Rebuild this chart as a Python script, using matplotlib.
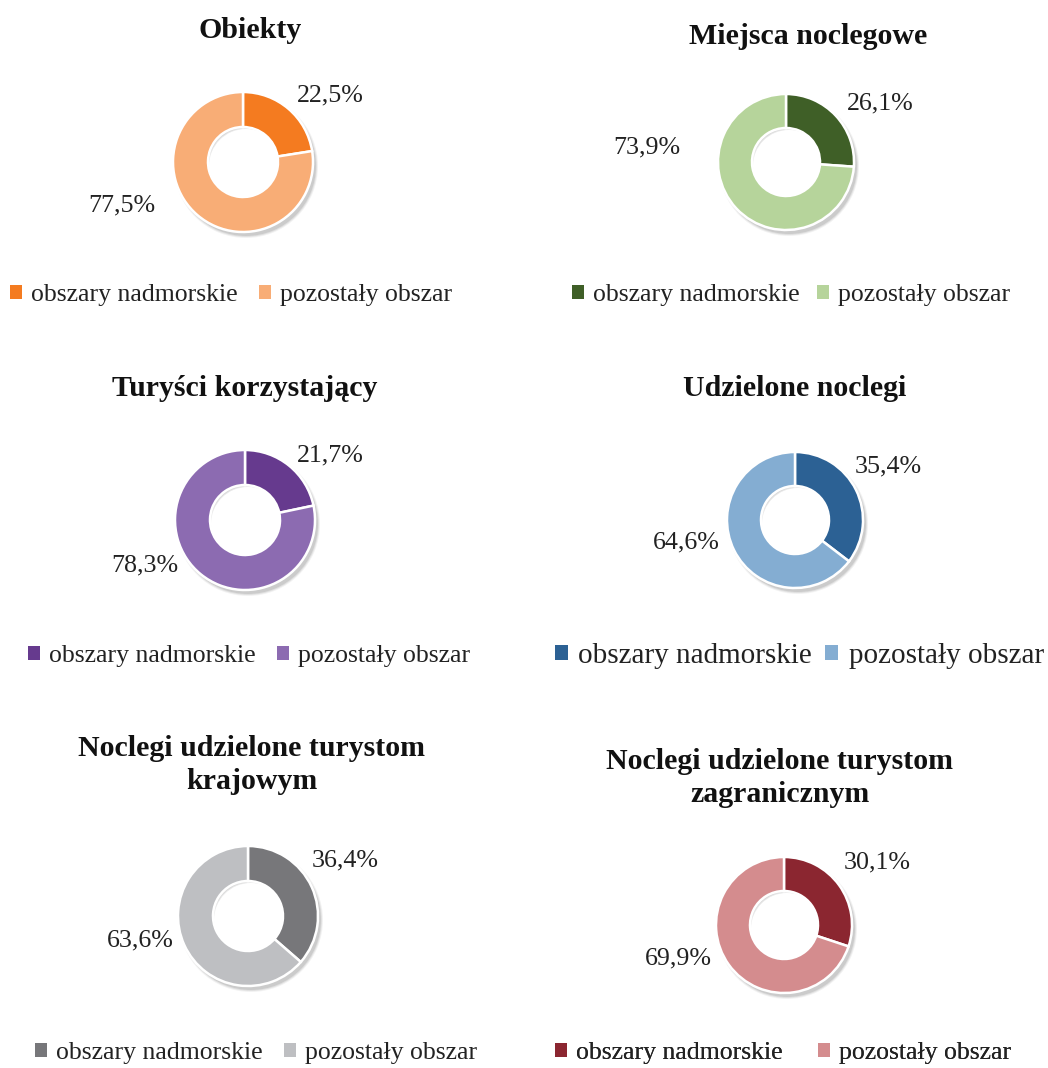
import matplotlib
matplotlib.use("Agg")
import matplotlib.pyplot as plt
from matplotlib.patches import Patch

plt.rcParams['font.family'] = ['Liberation Serif', 'DejaVu Serif']

titles = ["Obiekty", "Miejsca noclegowe", "Turyści korzystający", "Udzielone noclegi",
          "Noclegi udzielone turystom\nkrajowym", "Noclegi udzielone turystom\nzagranicznym"]
categories = ["obszary nadmorskie", "pozostały obszar"]
seaside = [22.5, 26.1, 21.7, 35.4, 36.4, 30.1]
other = [77.5, 73.9, 78.3, 64.6, 63.6, 69.9]
colors = [("#F47B20", "#F8AD76"), ("#3F5F27", "#B6D49B"), ("#663A8E", "#8C6BB1"),
          ("#2C6194", "#84ADD2"), ("#77777A", "#BEBFC2"), ("#8B2630", "#D48C8E")]

W, H = 1048, 1068
fig = plt.figure(figsize=(W / 100, H / 100), dpi=100)
ax = fig.add_axes([0, 0, 1, 1])
ax.set_xlim(0, W)
ax.set_ylim(0, H)
ax.axis('off')

# layout (pixel coordinates, y from top)
centers = [(243, 162), (786, 162), (245, 520), (795, 520), (248, 916), (784, 925)]
radii = [70, 68, 70, 68, 70, 68]
title_pos = [(250, 30), (808, 37), (245, 388), (795, 388), (252, 765), (780, 778)]
lab1_pos = [(330, 95), (880, 103), (330, 455), (888, 466), (345, 860), (877, 862)]
lab2_pos = [(122, 205), (647, 147), (145, 565), (686, 542), (140, 940), (678, 958)]
leg_pos = [(10, 295), (572, 295), (28, 656), (555, 656), (35, 1053), (555, 1053)]
leg_fs = [18.5, 18.5, 18.5, 21, 18.5, 18.5]
leg_colsp = [0.85, 0.7, 0.85, 0.45, 0.85, 1.4]

fmt = lambda v: f"{v:.1f}%".replace('.', ',')

for i in range(6):
    cx, cy = centers[i]
    cy = H - cy
    r = radii[i]
    vals = [seaside[i], other[i]]
    # shadow
    for k, a in enumerate([0.05, 0.07, 0.09]):
        ax.pie([1], colors=['#000000'], radius=r + 2 - k, center=(cx + 3, cy - 4),
               startangle=90, wedgeprops=dict(width=r * 0.5 - 2, linewidth=0, alpha=a))
    ax.pie(vals, colors=list(colors[i]), radius=r, center=(cx, cy), startangle=90,
           counterclock=False,
           wedgeprops=dict(width=r * 0.5, edgecolor='white', linewidth=1.8))
    ax.text(title_pos[i][0], H - title_pos[i][1], titles[i], ha='center', va='center',
            fontsize=21.5, fontweight='bold', color='#111111', linespacing=1.3)
    ax.text(lab1_pos[i][0], H - lab1_pos[i][1], fmt(seaside[i]), ha='center', va='center',
            fontsize=18.7, color='#222222')
    ax.text(lab2_pos[i][0], H - lab2_pos[i][1], fmt(other[i]), ha='center', va='center',
            fontsize=18.7, color='#222222')
    handles = [Patch(facecolor=c, edgecolor='none') for c in colors[i]]
    leg = ax.legend(handles, categories, loc='center left', ncol=2, frameon=False,
                    bbox_to_anchor=(leg_pos[i][0], H - leg_pos[i][1]),
                    bbox_transform=ax.transData, borderaxespad=0, borderpad=0,
                    handlelength=0.45, handleheight=0.45, handletextpad=0.35,
                    columnspacing=leg_colsp[i], fontsize=leg_fs[i])
    for t in leg.get_texts():
        t.set_color('#222222')
    ax.add_artist(leg)

ax.set_xlim(0, W)
ax.set_ylim(0, H)
fig.savefig("out.png", dpi=100, facecolor='white')
